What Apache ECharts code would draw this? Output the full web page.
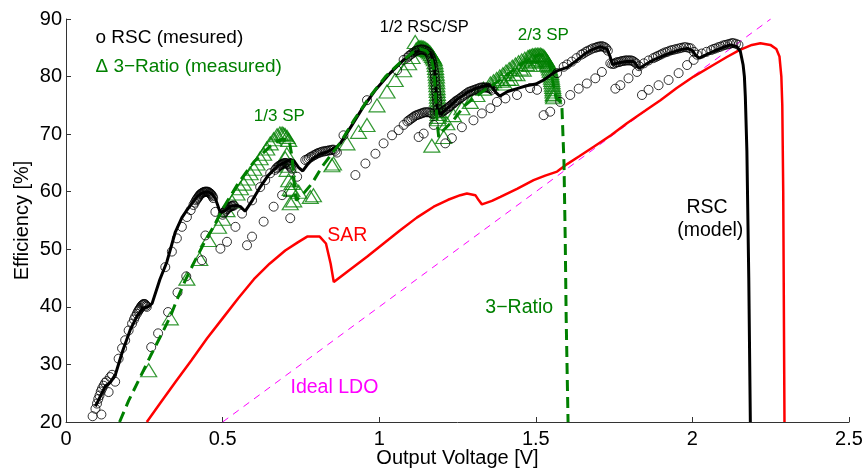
<!DOCTYPE html>
<html>
<head>
<meta charset="utf-8">
<script src="https://cdn.jsdelivr.net/npm/echarts@6/dist/echarts.min.js"></script>
<style>html,body{margin:0;padding:0;background:#fff}#chart{width:865px;height:471px}</style>
</head>
<body>
<div id="chart"></div>
<script>
// ideal LDO (Vout/Vin)
const idealLdo = [[0.5,20],[2.25,90]];

// SAR converter
const sar = [[0.258,20],[0.30,23.2],[0.35,27.0],[0.40,30.7],[0.45,34.5],[0.50,38.0],[0.55,41.5],[0.60,44.8],[0.65,47.5],[0.70,49.8],[0.74,51.2],[0.77,52.2],[0.81,52.2],[0.83,51.0],[0.845,47.5],[0.855,44.3],[0.90,46.2],[0.961,48.7],[1.0,50.4],[1.067,53.3],[1.12,55.5],[1.174,57.4],[1.22,58.6],[1.259,59.4],[1.28,59.7],[1.307,59.4],[1.318,58.5],[1.328,57.8],[1.36,58.4],[1.387,59.1],[1.44,60.5],[1.493,62.0],[1.53,62.8],[1.568,63.5],[1.60,64.8],[1.64,66.2],[1.685,67.8],[1.74,69.8],[1.791,71.9],[1.85,74.1],[1.898,75.9],[1.95,78.0],[2.004,80.0],[2.06,81.8],[2.11,83.4],[2.15,84.6],[2.19,85.5],[2.217,85.8],[2.249,85.5],[2.268,84.8],[2.278,83.5],[2.284,80],[2.287,75],[2.29,60],[2.292,40],[2.294,20]];

// RSC model
const rscModel = [[0.094,22.7],[0.11,24.5],[0.125,26.2],[0.142,26.9],[0.158,28.3],[0.18,32.2],[0.205,36],[0.226,38.3],[0.245,39.8],[0.262,40.0],[0.275,40.6],[0.30,44.8],[0.322,47.8],[0.349,53.0],[0.37,55.5],[0.386,56.8],[0.418,59.1],[0.435,59.8],[0.45,60.0],[0.465,59.7],[0.477,58.8],[0.493,56.3],[0.51,56.8],[0.525,57.5],[0.545,57.6],[0.557,57.4],[0.572,56.6],[0.595,58.5],[0.62,60.8],[0.645,62.8],[0.663,63.8],[0.68,64.6],[0.695,65.0],[0.716,65.6],[0.727,65.4],[0.743,64.2],[0.756,63.6],[0.772,64.8],[0.79,65.8],[0.81,66.5],[0.833,66.9],[0.854,67.5],[0.865,67.8],[0.876,68.4],[0.91,71.3],[0.95,74.8],[0.99,77.8],[1.035,80.6],[1.078,82.9],[1.105,83.9],[1.131,84.6],[1.15,84.6],[1.165,84.0],[1.175,82.5],[1.18,79],[1.185,74.5],[1.195,73.4],[1.22,74.6],[1.248,76.0],[1.28,77.2],[1.31,78.0],[1.344,78.5],[1.36,78.3],[1.373,77.2],[1.385,76.6],[1.41,77.4],[1.44,77.9],[1.47,78.4],[1.50,78.7],[1.525,79.4],[1.548,80.3],[1.568,81.0],[1.60,81.6],[1.631,82.8],[1.66,84.1],[1.685,84.8],[1.706,85.2],[1.727,84.8],[1.737,83.5],[1.745,82.1],[1.765,82.4],[1.79,82.6],[1.812,82.6],[1.822,82.0],[1.83,81.4],[1.85,82.1],[1.876,82.9],[1.91,83.7],[1.94,84.3],[1.965,84.7],[1.985,84.9],[2.0,84.5],[2.012,83.6],[2.022,83.2],[2.045,83.8],[2.068,84.4],[2.095,85.0],[2.121,85.5],[2.142,85.2],[2.153,84.4],[2.162,82],[2.166,80],[2.169,76.5],[2.174,67],[2.18,45],[2.185,20]];

// 3-ratio model
const ratio3Model = [[0.171,20],[0.20,23.7],[0.237,27.8],[0.27,31.5],[0.301,34.8],[0.333,38.3],[0.354,41.2],[0.38,44.5],[0.407,47.5],[0.44,51.0],[0.471,53.9],[0.50,57.0],[0.55,61.5],[0.60,65.2],[0.65,67.8],[0.69,69.2],[0.712,69.0],[0.722,66],[0.728,62],[0.735,58.5],[0.76,59.8],[0.785,61.4],[0.817,64.3],[0.849,66.6],[0.876,68.5],[0.92,72.5],[0.97,76.5],[1.02,80.0],[1.07,82.6],[1.11,84.3],[1.13,84.8],[1.15,84.5],[1.165,83.5],[1.175,81],[1.18,77],[1.185,72],[1.19,69.5],[1.2,70.4],[1.237,72.4],[1.27,74.8],[1.30,76.2],[1.34,77.8],[1.38,79.2],[1.42,80.8],[1.46,82.4],[1.50,83.6],[1.52,83.8],[1.54,82.6],[1.55,80.5],[1.558,78],[1.565,76.2],[1.575,75.8],[1.583,75.3],[1.59,65],[1.594,51.6],[1.597,38],[1.603,20]];

// RSC measured (circles)
const rscMeasured = [[0.085,21.0],[0.094,22.3],[0.113,21.3],[0.099,23.2],[0.103,24.0],[0.107,24.6],[0.111,25.3],[0.115,25.8],[0.120,26.3],[0.125,26.8],[0.130,27.1],[0.136,25.2],[0.141,27.8],[0.147,28.2],[0.157,27.0],
[0.168,31.0],[0.179,32.8],[0.189,34.2],[0.200,35.9],[0.211,37.1],[0.217,37.8],[0.221,38.3],[0.226,38.8],[0.230,39.2],[0.232,39.4],[0.235,39.6],[0.237,39.8],[0.240,40.1],[0.243,40.3],[0.246,40.4],[0.248,40.5],[0.251,40.5],[0.253,40.4],[0.256,40.2],[0.258,40.0],
[0.272,33.0],[0.294,35.4],[0.326,39.1],[0.356,42.5],[0.384,45.3],[0.434,48.1],[0.445,52.4],
[0.317,46.9],[0.338,49.6],[0.354,51.9],[0.370,53.9],[0.386,55.6],[0.398,56.8],[0.407,57.7],[0.411,58.1],[0.415,58.5],[0.418,58.7],[0.420,58.9],[0.423,59.1],[0.425,59.3],[0.428,59.5],[0.430,59.6],[0.433,59.7],[0.435,59.8],[0.438,59.9],[0.440,59.9],[0.443,60.0],[0.445,60.0],[0.448,60.0],[0.450,60.0],[0.453,60.0],[0.455,59.9],[0.458,59.8],[0.460,59.7],[0.463,59.6],[0.465,59.4],[0.468,59.2],[0.470,58.9],[0.477,56.5],
[0.493,50.1],[0.514,51.3],[0.541,53.9],[0.562,56.2],
[0.500,56.0],[0.503,56.3],[0.506,56.5],[0.509,56.7],[0.512,56.9],[0.515,57.0],[0.518,57.2],[0.521,57.3],[0.524,57.4],[0.527,57.5],[0.530,57.5],[0.533,57.6],[0.536,57.6],
[0.578,50.7],[0.594,52.2],[0.631,54.8],[0.663,57.4],[0.690,59.4],[0.716,55.4],
[0.594,58.5],[0.620,60.8],[0.636,62.0],[0.652,63.2],[0.668,63.8],[0.672,64.1],[0.676,64.3],[0.680,64.5],[0.684,64.6],[0.687,64.7],[0.690,64.8],[0.693,64.9],[0.696,64.9],[0.699,65.0],[0.702,65.0],[0.705,64.9],[0.708,64.8],[0.711,64.7],[0.714,64.5],[0.717,64.3],[0.720,64.0],
[0.738,62.6],[0.764,65.5],[0.770,65.6],[0.775,65.8],[0.780,66.0],[0.785,66.1],[0.790,66.3],[0.795,66.4],[0.800,66.6],[0.805,66.7],[0.810,66.8],[0.815,66.9],[0.820,67.0],[0.825,67.0],[0.830,67.1],[0.835,67.1],[0.840,67.2],[0.845,67.2],[0.850,67.3],[0.855,67.3],[0.860,67.1],[0.865,66.8],
[0.886,69.8],[0.961,75.9],[1.057,81.1],[1.078,82.9],
[0.924,62.9],[0.956,64.9],[0.988,66.6],[1.014,68.4],[1.041,69.8],[1.062,70.7],[1.078,71.6],[1.090,72.2],[1.095,72.4],[1.100,72.6],[1.105,72.8],[1.110,73.0],[1.115,73.2],[1.120,73.3],[1.125,73.4],[1.130,73.5],[1.135,73.6],[1.140,73.7],[1.145,73.8],[1.150,73.8],[1.155,73.8],[1.160,73.8],[1.165,73.7],[1.170,73.5],
[1.126,69.5],[1.142,70.1],[1.174,71.6],
[1.090,83.3],[1.095,83.6],[1.100,83.8],[1.105,84.0],[1.110,84.2],[1.115,84.4],[1.120,84.5],[1.125,84.6],[1.130,84.7],[1.135,84.7],[1.140,84.7],[1.145,84.6],[1.150,84.5],[1.155,84.3],[1.160,84.0],[1.163,83.6],[1.166,83.2],[1.169,82.7],[1.171,82.2],[1.173,81.6],[1.175,81.0],[1.177,80.4],[1.178,79.8],[1.179,79.1],[1.180,78.5],[1.181,77.9],[1.182,77.3],[1.183,76.7],[1.184,76.2],[1.185,75.6],[1.186,75.0],[1.188,74.4],[1.190,73.8],
[1.211,68.4],[1.232,69.3],[1.264,71.2],[1.301,72.4],[1.328,73.6],[1.355,74.5],[1.376,75.6],[1.403,76.2],[1.440,76.8],[1.482,78.0],[1.504,77.7],
[1.200,73.8],[1.205,74.0],[1.210,74.2],[1.215,74.4],[1.220,74.6],[1.224,74.8],[1.227,74.9],[1.231,75.1],[1.235,75.3],[1.239,75.4],[1.242,75.6],[1.246,75.8],[1.250,75.9],[1.255,76.1],[1.260,76.3],[1.265,76.5],[1.270,76.7],[1.275,76.9],[1.280,77.1],[1.285,77.3],[1.290,77.4],[1.295,77.5],[1.300,77.6],[1.305,77.7],[1.310,77.8],[1.315,77.9],[1.320,78.0],[1.325,78.1],[1.330,78.1],[1.335,78.1],[1.340,78.1],[1.345,78.1],[1.350,78.0],[1.355,77.9],[1.360,77.7],
[1.525,73.3],[1.546,73.9],[1.578,75.6],
[1.610,76.8],[1.637,77.9],[1.663,78.8],[1.690,79.7],[1.711,80.8],[1.754,77.9],[1.770,78.5],[1.796,79.7],[1.823,80.8],[1.839,76.8],[1.860,77.7],[1.892,78.5],[1.924,79.4],[1.956,80.6],[1.983,82.0],[2.004,82.9],
[1.568,80.6],[1.589,81.7],[1.600,82.1],[1.615,82.6],[1.630,83.2],[1.645,83.8],[1.652,84.0],[1.660,84.3],[1.667,84.5],[1.675,84.7],[1.682,84.9],[1.690,85.0],[1.695,85.1],[1.700,85.2],[1.705,85.2],[1.710,85.3],[1.715,85.2],[1.720,85.1],[1.725,84.9],[1.730,84.5],[1.738,82.3],[1.744,82.2],[1.750,82.2],[1.755,82.4],[1.760,82.5],[1.765,82.5],[1.770,82.6],[1.775,82.7],[1.780,82.7],[1.785,82.8],[1.790,82.8],[1.795,82.8],[1.800,82.8],[1.805,82.8],[1.810,82.7],[1.815,82.5],[1.820,82.3],[1.830,81.8],[1.845,82.3],[1.860,82.8],[1.875,83.2],[1.883,83.4],[1.890,83.6],[1.898,83.8],[1.905,84.0],[1.913,84.2],[1.920,84.3],[1.928,84.5],[1.935,84.6],[1.943,84.7],[1.950,84.8],[1.958,84.9],[1.965,85.0],[1.973,85.1],[1.980,85.1],[1.988,85.0],[1.995,84.9],[2.005,84.3],[2.015,83.8],[2.030,84.0],[2.045,84.3],[2.060,84.6],[2.068,84.8],[2.075,84.9],[2.083,85.1],[2.090,85.2],[2.098,85.4],[2.105,85.5],[2.113,85.6],[2.120,85.7],[2.126,85.8],[2.131,85.8],[2.139,85.7],[2.147,85.5]];

// 3-ratio measured (triangles)
const ratio3Measured = [[0.264,29.0],[0.333,38.0],[0.386,44.9],[0.427,48.3],[0.455,51.6],[0.487,53.9],
[0.500,55.3],[0.514,56.8],[0.530,58.3],[0.546,59.7],[0.557,60.6],[0.567,61.4],[0.578,62.3],[0.588,63.2],[0.600,64.0],[0.610,64.9],[0.620,65.8],[0.631,66.6],[0.641,67.5],[0.652,68.4],[0.663,69.1],[0.674,69.8],[0.683,70.1],[0.690,70.1],[0.695,70.0],[0.700,69.8],[0.706,69.5],[0.711,69.0],
[0.700,65.8],[0.706,63.8],[0.711,62.0],[0.716,60.5],[0.721,60.3],[0.727,58.5],[0.716,58.0],[0.722,61.5],[0.743,60.0],[0.705,66.5],[0.710,64.5],
[0.780,59.1],[0.790,59.4],[0.849,64.6],[0.854,64.9],[0.897,68.4],[0.934,70.4],[0.961,71.6],[0.993,75.0],[1.025,77.4],[1.051,79.4],[1.078,81.1],[1.094,82.3],[1.105,83.4],[1.115,86.0],
[1.118,84.7],[1.122,84.9],[1.126,85.0],[1.130,85.1],[1.134,85.1],[1.138,85.0],[1.142,85.0],[1.146,84.9],[1.150,84.7],[1.154,84.6],[1.158,84.4],[1.162,84.2],[1.166,83.9],[1.170,83.6],[1.173,83.3],
[1.176,83.0],[1.178,82.5],[1.179,82.0],[1.180,81.5],[1.181,81.0],[1.182,80.5],[1.183,80.0],[1.183,79.5],[1.184,79.0],[1.184,78.5],[1.185,78.0],[1.185,77.5],[1.186,77.0],[1.186,76.5],[1.186,76.0],[1.187,75.5],[1.187,75.0],[1.187,74.5],[1.188,74.0],[1.188,73.5],[1.188,73.0],[1.188,72.6],
[1.168,68.0],[1.206,69.5],[1.216,71.9],[1.237,73.3],[1.264,74.5],[1.291,75.6],[1.312,76.8],[1.333,77.9],[1.355,78.8],
[1.365,79.2],[1.375,79.6],[1.385,80.0],[1.395,80.4],[1.405,80.9],[1.415,81.3],[1.425,81.7],[1.435,82.1],[1.445,82.5],[1.455,82.8],[1.465,83.1],[1.475,83.4],[1.480,83.5],[1.485,83.6],[1.490,83.7],[1.495,83.7],[1.500,83.8],[1.505,83.8],[1.510,83.8],[1.515,83.8],[1.519,83.7],[1.523,83.6],[1.527,83.4],[1.530,83.2],[1.534,82.9],[1.537,82.6],
[1.540,82.2],[1.542,81.8],[1.544,81.4],[1.546,81.0],[1.548,80.6],[1.549,80.2],[1.550,79.8],[1.551,79.4],[1.552,79.0],[1.553,78.6],[1.554,78.2],[1.555,77.8],[1.555,77.4],[1.556,77.0],[1.556,76.7],[1.557,76.4],
[1.390,79.3],[1.400,78.8],[1.410,79.6],[1.420,79.6],[1.430,80.5],[1.440,80.4],[1.450,81.4],[1.460,81.2],[1.470,82.2],[1.480,82.0],[1.490,82.8],[1.500,82.6],[1.510,83.0],[1.520,82.8],[1.535,82.0]];

// text annotations, anchored in data coordinates
const notes = [
  {text:'o RSC (mesured)', at:[0.094,86.7], color:'#000', align:'left', size:19},
  {text:'\u0394 3\u2212Ratio (measured)', at:[0.094,81.65], color:'#008000', align:'left', size:19},
  {text:'1/3 SP', at:[0.681,73.1], color:'#008000', size:17},
  {text:'1/2 RSC/SP', at:[1.144,88.6], color:'#000', size:16.5},
  {text:'2/3 SP', at:[1.524,87.2], color:'#008000', size:17},
  {text:'SAR', at:[0.898,52.45], color:'#ff0000', size:19.5},
  {text:'3\u2212Ratio', at:[1.447,39.9], color:'#008000', size:19.5},
  {text:'Ideal LDO', at:[0.857,25.9], color:'#ff00ff', size:19.5},
  {text:'RSC', at:[2.047,57.3], color:'#000', size:19.5},
  {text:'(model)', at:[2.057,53.3], color:'#000', size:19.5}
];

const font = "'Liberation Sans', Arial, sans-serif";
const chart = echarts.init(document.getElementById('chart'));

const axisCommon = {
  axisLine: {lineStyle: {color: '#333', width: 1}},
  axisTick: {inside: true, length: 5, lineStyle: {color: '#333'}},
  splitLine: {show: false},
  axisLabel: {color: '#000', fontSize: 20, fontFamily: font},
  nameTextStyle: {color: '#000', fontSize: 20, fontFamily: font},
  nameMoveOverlap: false
};

chart.setOption({
  animation: false,
  grid: {left: 66, right: 16, top: 19, bottom: 49, containLabel: false, outerBoundsMode: 'none'},
  xAxis: Object.assign({}, axisCommon, {
    type: 'value', min: 0, max: 2.5, interval: 0.5,
    name: 'Output Voltage [V]', nameLocation: 'middle', nameGap: 26,
    axisLabel: Object.assign({}, axisCommon.axisLabel, {margin: 7})
  }),
  yAxis: Object.assign({}, axisCommon, {
    type: 'value', min: 20, max: 90, interval: 10,
    name: 'Efficiency [%]', nameLocation: 'middle', nameGap: 34,
    axisLabel: Object.assign({}, axisCommon.axisLabel, {margin: 4})
  }),
  series: [
    {type: 'line', data: idealLdo, symbol: 'none', z: 1,
     lineStyle: {color: '#ff00ff', width: 1, type: [7, 6]}},
    {type: 'line', data: sar, symbol: 'none', z: 2,
     lineStyle: {color: '#ff0000', width: 2.5}},
    {type: 'scatter', data: ratio3Measured, symbol: 'triangle', symbolSize: [16, 13], z: 3,
     itemStyle: {color: 'rgba(0,0,0,0)', borderColor: '#008000', borderWidth: 1.2}},
    {type: 'scatter', data: rscMeasured, symbol: 'circle', symbolSize: 9, z: 4,
     itemStyle: {color: 'rgba(0,0,0,0)', borderColor: '#000', borderWidth: 1}},
    {type: 'line', data: rscModel, symbol: 'none', z: 5,
     lineStyle: {color: '#000', width: 3}},
    {type: 'line', data: ratio3Model, symbol: 'none', z: 5,
     lineStyle: {color: '#008000', width: 3, type: [11, 6]}}
  ]
});

chart.setOption({
  graphic: notes.map(n => {
    const p = chart.convertToPixel({gridIndex: 0}, n.at);
    return {
      type: 'text', x: p[0], y: p[1], z: 100,
      style: {text: n.text, fill: n.color, fontSize: n.size, fontFamily: font,
              align: n.align || 'center', verticalAlign: 'middle'}
    };
  })
});
</script>
</body>
</html>
